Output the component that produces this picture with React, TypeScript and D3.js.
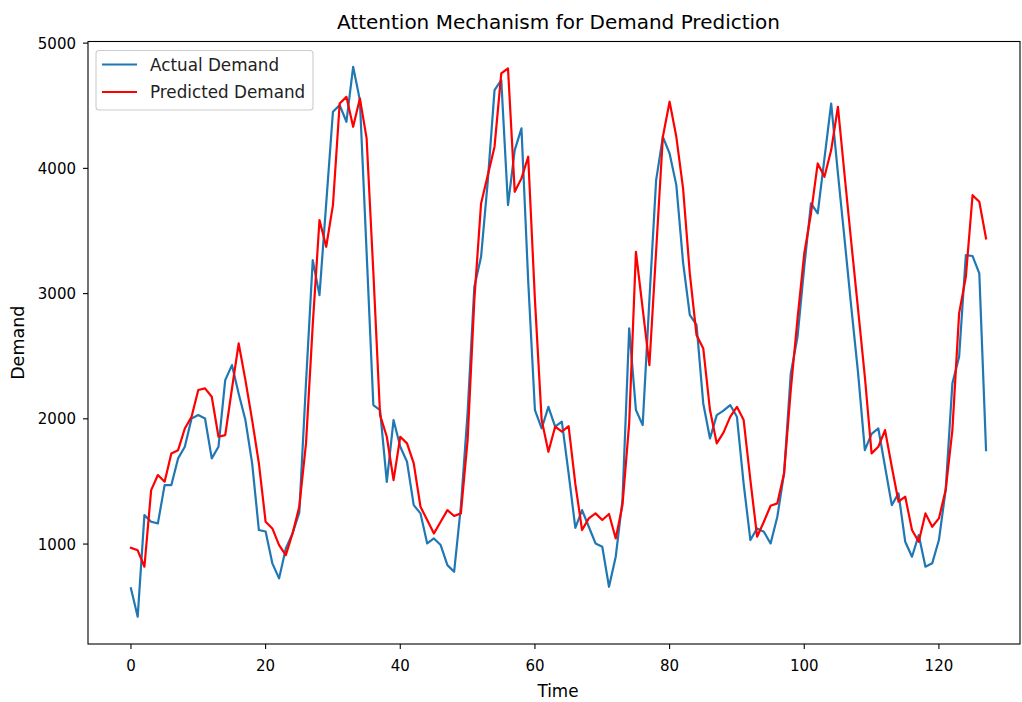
import React from "react";
import * as d3 from "d3";

const actualDemand = [
  646, 420, 1231, 1178, 1165, 1471, 1471, 1684, 1777, 2003,
  2030, 2003, 1684, 1777, 2309, 2429, 2200, 1990, 1644, 1112,
  1100, 846, 726, 965, 1085, 1250, 2290, 3267, 2988, 3720,
  4452, 4505, 4372, 4811, 4545, 3330, 2110, 2070, 1497, 1990,
  1777, 1657, 1311, 1245, 1005, 1045, 992, 832, 779, 1300,
  2050, 3054, 3294, 3900, 4625, 4705, 3707, 4146, 4319, 3100,
  2070, 1923, 2096, 1937, 1977, 1564, 1130, 1271, 1138, 1005,
  979, 659, 899, 1350, 2722, 2070, 1950, 2950, 3906, 4252,
  4119, 3866, 3250, 2830, 2750, 2123, 1843, 2030, 2065, 2110,
  2016, 1480, 1032, 1125, 1098, 1005, 1218, 1564, 2363, 2655,
  3214, 3720, 3640, 4079, 4518, 3960, 3427, 2884, 2363, 1750,
  1880, 1923, 1617, 1311, 1405, 1018, 899, 1072, 819, 846,
  1032, 1431, 2283, 2496, 3307, 3300, 3161, 1750,
];

const predictedDemand = [
  970, 950, 819, 1431, 1551, 1498, 1724, 1750, 1923, 2016,
  2230, 2243, 2176, 1857, 1870, 2240, 2602, 2309, 1990, 1644,
  1178, 1125, 992, 912, 1085, 1298, 1804, 2750, 3587, 3374,
  3707, 4518, 4571, 4332, 4558, 4241, 3170, 2030, 1857, 1511,
  1857, 1804, 1644, 1298, 1192, 1085, 1178, 1271, 1224, 1245,
  1830, 2950, 3720, 3946, 4173, 4758, 4798, 3813, 3920, 4093,
  2950, 1990, 1737, 1937, 1897, 1942, 1480, 1112, 1205, 1245,
  1192, 1240, 1045, 1311, 1965, 3334, 2880, 2429, 3340, 4252,
  4532, 4252, 3840, 3161, 2669, 2562, 2070, 1804, 1890, 2016,
  2096, 1990, 1511, 1059, 1178, 1306, 1325, 1564, 2230, 2800,
  3320, 3640, 4039, 3933, 4146, 4492, 3941, 3400, 2870, 2336,
  1724, 1777, 1910, 1617, 1338, 1378, 1112, 1018, 1245, 1138,
  1205, 1431, 1910, 2842, 3134, 3786, 3733, 3441,
];

const xTicks = [0, 20, 40, 60, 80, 100, 120];
const yTicks = [1000, 2000, 3000, 4000, 5000];

const seriesNames = ["Actual Demand", "Predicted Demand"];
const seriesColors = ["#1f77b4", "#ff0000"];

export default function App() {
  const W = 1022;
  const H = 702;
  const L = 88;
  const R = 1020;
  const T = 41.5;
  const B = 644;
  const FONT = "DejaVu Sans, sans-serif";

  const x = d3.scaleLinear().domain([-6.35, 133.35]).range([88.2, 1028.8]);
  const y = d3.scaleLinear().domain([202, 5013]).range([644, 41.5]);

  const line = d3
    .line<number>()
    .x((_, i) => x(i))
    .y((d) => y(d));

  const series = [actualDemand, predictedDemand];

  return (
    <svg
      width={W}
      height={H}
      style={{ position: "absolute", left: 0, top: 0, background: "#fff" }}
      fontFamily={FONT}
    >
      <rect x={0} y={0} width={W} height={H} fill="#fff" />
      <defs>
        <clipPath id="plot">
          <rect x={L} y={T} width={R - L} height={B - T} />
        </clipPath>
      </defs>
      <g clipPath="url(#plot)">
        {series.map((s, k) => (
          <path
            key={k}
            d={line(s) || ""}
            fill="none"
            stroke={seriesColors[k]}
            strokeWidth={2.2}
            strokeLinejoin="round"
            strokeLinecap="square"
          />
        ))}
      </g>
      <rect x={L} y={T} width={R - L} height={B - T} fill="none" stroke="#000" strokeWidth={1.1} />
      {xTicks.map((t) => (
        <g key={t}>
          <line x1={x(t)} x2={x(t)} y1={B} y2={B + 5} stroke="#000" strokeWidth={1.1} />
          <text x={x(t)} y={671} textAnchor="middle" fontSize={15} fill="#000">
            {t}
          </text>
        </g>
      ))}
      {yTicks.map((t) => (
        <g key={t}>
          <line x1={L - 5} x2={L} y1={y(t)} y2={y(t)} stroke="#000" strokeWidth={1.1} />
          <text x={76} y={y(t) + 5.5} textAnchor="end" fontSize={15} fill="#000">
            {t}
          </text>
        </g>
      ))}
      <text x={(88.2 + 1028.8) / 2} y={29} textAnchor="middle" fontSize={20} fill="#000">
        Attention Mechanism for Demand Prediction
      </text>
      <text x={558} y={697} textAnchor="middle" fontSize={16.8} fill="#000">
        Time
      </text>
      <text
        transform={`translate(24, ${(T + B) / 2}) rotate(-90)`}
        textAnchor="middle"
        fontSize={17.5}
        fill="#000"
      >
        Demand
      </text>
      <g>
        <rect
          x={96}
          y={50.5}
          width={217}
          height={59.5}
          rx={3}
          ry={3}
          fill="#fff"
          fillOpacity={0.8}
          stroke="#cccccc"
          strokeWidth={1.1}
        />
        {seriesNames.map((n, k) => (
          <g key={n}>
            <line
              x1={102}
              x2={137}
              y1={64.5 + k * 27.5}
              y2={64.5 + k * 27.5}
              stroke={seriesColors[k]}
              strokeWidth={2.2}
            />
            <text x={150} y={64.5 + k * 27.5 + 6} fontSize={16.8} fill="#222">
              {n}
            </text>
          </g>
        ))}
      </g>
    </svg>
  );
}
